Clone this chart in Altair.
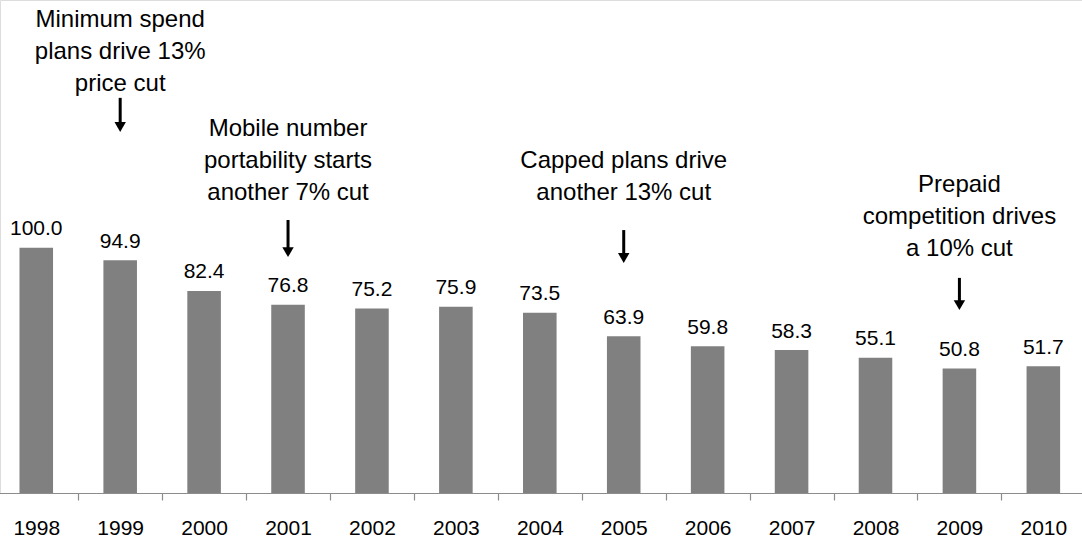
import altair as alt
import pandas as pd

years = ["1998", "1999", "2000", "2001", "2002", "2003", "2004",
         "2005", "2006", "2007", "2008", "2009", "2010"]
values = [100.0, 94.9, 82.4, 76.8, 75.2, 75.9, 73.5, 63.9, 59.8, 58.3, 55.1, 50.8, 51.7]
labels = ["100.0", "94.9", "82.4", "76.8", "75.2", "75.9", "73.5",
          "63.9", "59.8", "58.3", "55.1", "50.8", "51.7"]

ann_years = ["1999", "2001", "2005", "2009"]
ann_texts = [
    "Minimum spend\nplans drive 13%\nprice cut",
    "Mobile number\nportability starts\nanother 7% cut",
    "Capped plans drive\nanother 13% cut",
    "Prepaid\ncompetition drives\na 10% cut",
]
ann_text_y = [190.0, 145.6, 132.5, 122.9]
arrow_top = [161.1, 111.3, 107.2, 87.7]
arrow_tip = [147.2, 96.2, 93.8, 74.6]

bars_df = pd.DataFrame({"year": years, "value": values, "label": labels})
ann_df = pd.DataFrame({"year": ann_years, "text": ann_texts, "ty": ann_text_y,
                       "top": arrow_top, "tip": arrow_tip})

x_scale = alt.Scale(domain=years, range=[-5.7, 1085.3], paddingInner=0, paddingOuter=0)
y_scale = alt.Scale(domain=[0, 201])

x_enc = alt.X("year:N", scale=x_scale, sort=years,
              axis=alt.Axis(title=None, labelAngle=0, labelFontSize=21, labelColor="black",
                            labelFont="Liberation Sans", domainColor="#8c8c8c", tickColor="#8c8c8c",
                            tickBand="extent", tickSize=7, labelPadding=17, domainWidth=1.2,
                            tickWidth=1.2, grid=False))

bars = alt.Chart(bars_df).mark_bar(color="#808080", width=alt.RelativeBandSize(0.4)).encode(
    x=x_enc,
    y=alt.Y("value:Q", scale=y_scale, axis=None),
)

bar_labels = alt.Chart(bars_df).mark_text(
    fontSize=21, font="Liberation Sans", color="black", baseline="alphabetic", dy=-12.5
).encode(
    x=alt.X("year:N", scale=x_scale, sort=years),
    y=alt.Y("value:Q", scale=y_scale),
    text="label:N",
)

ann_text = alt.Chart(ann_df).mark_text(
    fontSize=24, font="Liberation Sans", color="black", baseline="alphabetic",
    lineBreak="\n", lineHeight=32, align="center"
).encode(
    x=alt.X("year:N", scale=x_scale, sort=years),
    y=alt.Y("ty:Q", scale=y_scale),
    text="text:N",
)

arrow_shaft = alt.Chart(ann_df).mark_rule(color="black", strokeWidth=3, y2Offset=-6).encode(
    x=alt.X("year:N", scale=x_scale, sort=years),
    y=alt.Y("top:Q", scale=y_scale),
    y2="tip:Q",
)

arrow_head = alt.Chart(ann_df).mark_point(
    shape="triangle-down", filled=True, color="black", size=130, opacity=1, yOffset=-4.9
).encode(
    x=alt.X("year:N", scale=x_scale, sort=years),
    y=alt.Y("tip:Q", scale=y_scale),
)

chart = alt.layer(bars, bar_labels, ann_text, arrow_shaft, arrow_head).properties(
    width=1082, height=493,
    autosize=alt.AutoSizeParams(type="none"),
    padding={"left": 0, "right": 0, "top": 0, "bottom": 47},
).configure_view(stroke=None).configure(font="Liberation Sans")

chart.save("out.html", embed_options={"renderer": "svg", "actions": False})
